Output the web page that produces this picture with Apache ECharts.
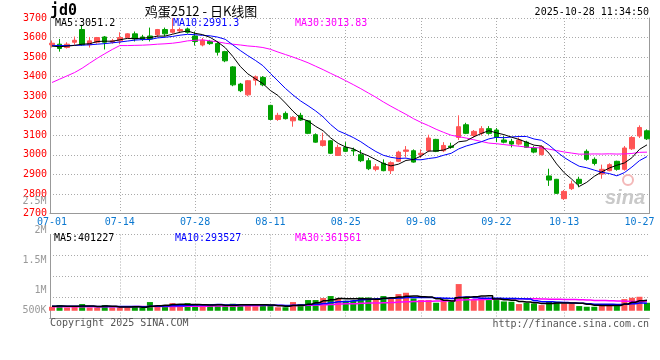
<!DOCTYPE html>
<html><head><meta charset="utf-8">
<script src="https://cdn.jsdelivr.net/npm/echarts@6/dist/echarts.min.js"></script>
<style>html,body{margin:0;padding:0;background:#fff}#c{width:660px;height:360px}</style>
</head><body><div id="c"></div>
<script>
const dates = ['07-01','07-02','07-03','07-04','07-07','07-08','07-09','07-10','07-11','07-14','07-15','07-16','07-17','07-18','07-21','07-22','07-23','07-24','07-25','07-28','07-29','07-30','07-31',
'08-01','08-04','08-05','08-06','08-07','08-08','08-11','08-12','08-13','08-14','08-15','08-18','08-19','08-20','08-21','08-22','08-25','08-26','08-27','08-28','08-29',
'09-01','09-02','09-03','09-04','09-05','09-08','09-09','09-10','09-11','09-12','09-15','09-16','09-17','09-18','09-19','09-22','09-23','09-24','09-25','09-26','09-29','09-30',
'10-09','10-10','10-13','10-14','10-15','10-16','10-17','10-20','10-21','10-22','10-23','10-24','10-27','10-28'];
const xTickDates = ['07-01','07-14','07-28','08-11','08-25','09-08','09-22','10-13','10-27'];
const xGridDates = ['07-14','07-28','08-11','08-25','09-08','09-22','10-13'];

const opens = [3563,3566,3549,3576,3641,3563,3576,3603,3576,3583,3600,3619,3603,3608,3614,3641,3627,3634,3644,3608,3562,3580,3569,3528,3450,3362,3307,3382,3396,3253,3181,3212,3174,3202,3174,3103,3048,3072,2997,3038,3025,3001,2970,2926,2957,2919,2967,3018,3021,3001,3021,3079,3021,3045,3089,3154,3099,3110,3134,3127,3076,3069,3055,3065,3035,3001,2892,2875,2776,2827,2875,3018,2977,2902,2919,2967,2926,3031,3096,3123];
const closes = [3571,3544,3566,3586,3563,3583,3600,3576,3583,3600,3619,3593,3591,3593,3641,3619,3641,3641,3627,3580,3586,3569,3525,3481,3358,3328,3379,3399,3358,3181,3202,3185,3191,3178,3110,3065,3072,3008,3038,3018,3020,2970,2929,2939,2919,2960,3014,3025,2963,3008,3086,3018,3048,3038,3144,3110,3120,3134,3110,3089,3065,3055,3076,3038,3014,3042,2871,2803,2813,2851,2854,2977,2956,2926,2950,2926,3035,3089,3140,3082];
const lows = [3549,3528,3544,3563,3559,3549,3569,3539,3569,3566,3597,3580,3583,3580,3600,3607,3620,3627,3620,3559,3555,3563,3508,3474,3351,3321,3300,3355,3351,3178,3174,3181,3144,3174,3106,3062,3042,3004,2994,3014,2995,2963,2922,2916,2916,2902,2963,2987,2960,2984,3014,3014,3014,3031,3076,3106,3089,3099,3103,3065,3059,3038,3048,3035,3008,2997,2841,2801,2769,2820,2834,2970,2946,2878,2916,2919,2919,3025,3086,3076];
const highs = [3585,3593,3576,3605,3665,3603,3603,3608,3593,3627,3622,3631,3614,3651,3644,3651,3699,3651,3651,3631,3598,3588,3580,3532,3454,3368,3382,3406,3403,3256,3215,3222,3198,3215,3178,3110,3113,3076,3052,3065,3037,3025,2984,2953,2977,2967,3021,3045,3028,3028,3103,3082,3065,3062,3202,3164,3127,3147,3147,3137,3096,3082,3089,3072,3045,3048,2929,2877,2820,2868,2888,3028,2987,2950,2957,2970,3045,3096,3151,3130];

const ma5 = [3556,3553,3556,3560,3566,3568.4,3579.6,3581.6,3581,3588.4,3595.6,3594.2,3597.2,3599.2,3607.4,3607.4,3617,3627,3633.8,3621.6,3615,3600.6,3577.4,3548.2,3503.8,3452.2,3414.2,3389,3364.4,3329,3303.8,3265,3223.4,3187.4,3173.2,3145.8,3123.2,3086.6,3058.6,3040.2,3031.2,3010.8,2995,2975.2,2955.4,2943.4,2952.2,2971.4,2976.2,2994,3019.2,3020,3024.6,3039.6,3066.8,3071.6,3092,3109.2,3123.6,3112.6,3103.6,3090.6,3079,3064.6,3049.6,3045,3008.2,2953.6,2908.6,2876,2838.4,2859.6,2890.2,2912.8,2932.6,2947,2958.6,2985.2,3028,3051.2];
const ma10 = [3560,3559,3559,3560,3561,3563,3566,3569,3573,3577.2,3582,3586.9,3589.4,3590.1,3597.9,3601.5,3605.6,3612.1,3616.5,3614.5,3611.2,3608.8,3602.2,3591,3562.7,3533.6,3507.4,3483.2,3456.3,3416.4,3378,3339.6,3306.2,3275.9,3251.1,3224.8,3194.1,3155,3123,3106.7,3088.5,3067,3040.8,3016.9,2997.8,2987.3,2981.5,2983.2,2975.7,2974.7,2981.3,2986.1,2998,3007.9,3030.4,3045.4,3056,3066.9,3081.6,3089.7,3087.6,3091.3,3094.1,3094.1,3081.1,3074.3,3049.4,3016.3,2986.6,2962.8,2941.7,2933.9,2921.9,2910.7,2904.3,2892.7,2909.1,2937.7,2970.4,2991.3];
const ma30 = [3370,3387,3404,3421,3443,3469,3494,3517,3539,3559,3559,3560,3561,3563,3566,3568,3571,3576,3583,3586,3588,3583,3578,3571,3566,3562,3557,3554,3549,3540,3526,3513,3500,3486,3471,3453.3,3435.7,3416.8,3398.6,3379.2,3359.2,3338.5,3316.4,3294.6,3270.5,3248.6,3227.7,3207.1,3185,3165.9,3149.3,3130.9,3115,3100.2,3093.1,3085.8,3077.2,3068.4,3060.1,3057,3052.5,3048.1,3044.3,3039.6,3036.4,3035.7,3029,3022.1,3014.6,3009.1,3003.5,3003.8,3004.7,3004.2,3005.3,3004.1,3004.8,3007,3012.9,3013.83];

const volumes = [154000,219000,127000,181000,258000,127000,127000,219000,127000,127000,127000,181000,116000,335000,219000,219000,296000,166000,296000,250000,173000,231000,193000,193000,270000,258000,258000,173000,193000,219000,135000,135000,335000,258000,412000,412000,489000,566000,474000,385000,385000,512000,512000,435000,566000,474000,643000,693000,474000,412000,412000,308000,412000,358000,1028000,512000,412000,512000,412000,412000,358000,347000,258000,308000,281000,219000,347000,347000,281000,281000,181000,154000,154000,258000,258000,181000,450000,500000,539000,308000];
const vma5 = [175000,180000,170000,175000,187800,182400,164000,182400,171600,145400,145400,156200,135600,177200,195600,214000,237000,247000,239200,245400,236200,223200,228600,208000,212000,229000,234400,230400,230400,220200,195600,171000,203400,216400,255000,310400,381200,427400,470600,465200,459800,464400,453600,445800,482000,499800,526000,562200,570000,539200,526800,459800,403600,380400,503600,523600,544400,564400,575200,452000,421200,408200,357400,336600,310400,282600,282600,300400,295000,295000,287400,248800,210200,205600,201000,201000,260200,329400,385600,401227];
const vma10 = [175000,175000,172000,170000,170000,170000,168000,168000,167000,166600,163900,160100,159000,174400,170500,179700,196600,191300,208200,220500,225100,230100,237800,223600,228700,232600,228800,229500,219200,216100,212300,202700,216900,223400,237600,253000,276100,315400,343500,360100,385100,422800,440500,458200,473600,479800,495200,507900,507900,510600,513300,492900,482900,475200,521400,525200,502100,484000,477800,477800,472400,476300,460900,455900,381200,351900,345400,328900,315800,302700,285000,265700,255300,250300,248000,244200,254500,269800,295600,293527];
const vma30 = [152000,150000,151000,153000,152000,154000,155000,155000,157000,158000,158000,160000,161000,163000,164000,167000,169000,171000,173000,176000,178000,181000,183000,184000,187000,189000,193000,195000,198000,201100,200400,197600,204600,207100,212300,221800,233800,245400,257000,265600,274200,285200,298400,301700,313300,321800,333400,350900,356900,362300,370200,372800,380100,385600,410900,419300,424500,435800,443100,449500,456900,464000,461400,463100,458700,452300,447600,440300,433800,430400,423600,411600,399700,393800,383500,373800,367300,360900,363100,361561];

const volTickLabels = ['2.5M','2M','1.5M','1M','500K'];

const UP = '#ff5555', DOWN = '#00a000';
const MONO = '"DejaVu Sans Mono", "Liberation Mono", monospace';
const labelSet = new Set(xTickDates);
const gridSet = new Set(xGridDates);

const candleData = opens.map((o, i) => [o, closes[i], lows[i], highs[i]]);
const volData = volumes.map((v, i) => ({value: v, itemStyle: {color: closes[i] >= opens[i] ? UP : DOWN}}));

function T(text, x, y, fill, font, align) {
  return {type: 'text', x: x, y: y, silent: true, z: 10,
    style: {text: text, fill: fill, font: font || ('10px ' + MONO), align: align || 'left', verticalAlign: 'middle'}};
}

const dotted = {color: '#aaa', width: 1, type: [1, 2]};
const frameLine = {show: true, lineStyle: {color: '#999', width: 1}};
const hiddenVal = (g, extra) => Object.assign({gridIndex: g, type: 'value', min: 0, max: 1, axisLine: {show: false}, axisTick: {show: false}, axisLabel: {show: false}, splitLine: {show: false}}, extra || {});

const chart = echarts.init(document.getElementById('c'), null, {renderer: 'canvas'});
chart.setOption({
  animation: false,
  backgroundColor: '#fff',
  grid: [
    {left: 50, top: 18, width: 599, height: 195.5},
    {left: 52, top: 18, width: 595, height: 195.5},
    {left: 50, top: 234.5, width: 599, height: 83.8},
    {left: 52, top: 234.5, width: 595, height: 83.8}
  ],
  xAxis: [
    hiddenVal(0, {axisLine: frameLine}),
    {gridIndex: 1, type: 'category', data: dates, boundaryGap: false,
      axisLine: {show: false}, axisTick: {show: false},
      axisLabel: {interval: (i, v) => labelSet.has(v), color: '#0b78d0', fontFamily: MONO, fontSize: 10, margin: 4},
      splitLine: {show: true, interval: (i, v) => gridSet.has(v), lineStyle: dotted}},
    hiddenVal(2, {axisLine: frameLine}),
    {gridIndex: 3, type: 'category', data: dates, boundaryGap: false,
      axisLine: {show: false}, axisTick: {show: false}, axisLabel: {show: false},
      splitLine: {show: true, interval: (i, v) => gridSet.has(v), lineStyle: dotted}},
    hiddenVal(2, {position: 'top', axisLine: frameLine})
  ],
  yAxis: [
    {gridIndex: 0, type: 'value', min: 2700, max: 3700, interval: 100,
      axisLine: frameLine, axisTick: {show: false},
      axisLabel: {color: '#ff0000', fontFamily: MONO, fontSize: 10, margin: 3, formatter: v => String(v)},
      splitLine: {show: true, lineStyle: dotted}},
    {gridIndex: 0, type: 'value', position: 'right', min: 2700, max: 3700,
      axisLine: frameLine, axisTick: {show: false}, axisLabel: {show: false}, splitLine: {show: false}},
    {gridIndex: 1, type: 'value', min: 2700, max: 3700, show: false},
    {gridIndex: 2, type: 'value', min: 0, max: 4, interval: 1,
      axisLine: frameLine, axisTick: {show: false}, axisLabel: {show: false},
      splitLine: {show: true, lineStyle: dotted}},
    {gridIndex: 2, type: 'value', position: 'right', min: 0, max: 4,
      axisLine: frameLine, axisTick: {show: false}, axisLabel: {show: false}, splitLine: {show: false}},
    {gridIndex: 3, type: 'value', min: -290000, max: 2936000, show: false}
  ],
  series: [
    {type: 'candlestick', xAxisIndex: 1, yAxisIndex: 2, data: candleData, barWidth: 5, clip: false,
      itemStyle: {color: UP, color0: DOWN, borderColor: UP, borderColor0: DOWN, borderWidth: 1}},
    {type: 'line', xAxisIndex: 1, yAxisIndex: 2, data: ma30, symbol: 'none', lineStyle: {color: '#ff00ff', width: 1}, z: 3},
    {type: 'line', xAxisIndex: 1, yAxisIndex: 2, data: ma10, symbol: 'none', lineStyle: {color: '#0000ff', width: 1}, z: 3},
    {type: 'line', xAxisIndex: 1, yAxisIndex: 2, data: ma5, symbol: 'none', lineStyle: {color: '#000000', width: 1}, z: 3},
    {type: 'bar', xAxisIndex: 3, yAxisIndex: 5, data: volData, barWidth: 6, clip: false},
    {type: 'line', xAxisIndex: 3, yAxisIndex: 5, data: vma30, step: 'middle', symbol: 'none', lineStyle: {color: '#ff00ff', width: 1.5}, z: 3},
    {type: 'line', xAxisIndex: 3, yAxisIndex: 5, data: vma10, step: 'middle', symbol: 'none', lineStyle: {color: '#0000ff', width: 1.5}, z: 3},
    {type: 'line', xAxisIndex: 3, yAxisIndex: 5, data: vma5, step: 'middle', symbol: 'none', lineStyle: {color: '#000000', width: 1.5}, z: 3}
  ],
  graphic: [
    T('jd0', 50, 11, '#000', 'bold 15px ' + MONO),
    T('鸡蛋2512 - 日K线图', 201, 11, '#000', '13px "Noto Sans CJK SC"', 'center'),
    T('2025-10-28 11:34:50', 649, 12, '#000', null, 'right'),
    T('MA5:3051.2', 55, 23.5, '#000'),
    T('MA10:2991.3', 173, 23.5, '#0000ff'),
    T('MA30:3013.83', 295, 23.5, '#ff00ff'),
    T('MA5:401227', 54, 238.5, '#000'),
    T('MA10:293527', 175, 238.5, '#0000ff'),
    T('MA30:361561', 295, 238.5, '#ff00ff'),
    T(volTickLabels[0], 46.5, 201, '#999', null, 'right'),
    T(volTickLabels[1], 46.5, 230.5, '#999', null, 'right'),
    T(volTickLabels[2], 46.5, 260.5, '#999', null, 'right'),
    T(volTickLabels[3], 46.5, 290.5, '#999', null, 'right'),
    T(volTickLabels[4], 46.5, 310.5, '#999', null, 'right'),
    T('Copyright 2025 SINA.COM', 50, 323, '#555'),
    T('http://finance.sina.com.cn', 649, 324, '#555', null, 'right'),
    {type: 'circle', silent: true, z: 1, shape: {cx: 628, cy: 180, r: 5}, style: {fill: 'none', stroke: '#f3b8b8', lineWidth: 2}},
    {type: 'text', x: 625, y: 198, silent: true, z: 1,
      style: {text: 'sina', fill: '#c9c9c9', font: 'italic bold 20px "Liberation Sans"', align: 'center', verticalAlign: 'middle'}}
  ]
});
</script>
</body></html>
